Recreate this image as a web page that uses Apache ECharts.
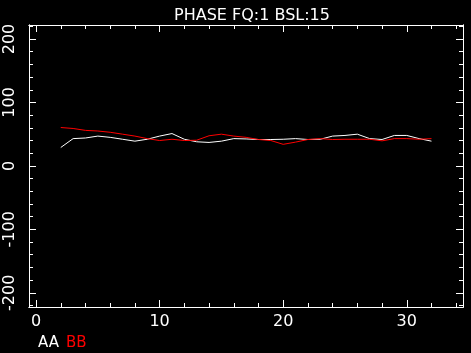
<!DOCTYPE html>
<html><head><meta charset="utf-8">
<script src="https://cdn.jsdelivr.net/npm/echarts@6/dist/echarts.min.js"></script>
<style>html,body{margin:0;padding:0;background:#000}#c{width:471px;height:353px}</style>
</head><body><div id="c"></div>
<script>
const titleText = 'PHASE FQ:1 BSL:15';
const xValues = [2,3,4,5,6,7,8,9,10,11,12,13,14,15,16,17,18,19,20,21,22,23,24,25,26,27,28,29,30,31,32];
const seriesAA = [29,43,44,47,45,42,39,42,47,51,42,38,37,39,43,42.5,41.6,41.6,42,43,41.6,42,47,48,50,43,41.6,48,48,43,39];
const seriesBB = [60.5,59,56,55,53,50,47,43,40,42,40,40.5,47.5,50,47,45,41.6,40,34,37.5,41.6,43,41.6,42,42,42,39.5,43,43,42,43];
const xMajorTicks = [0,10,20,30];
const xMinorTicks = [0,2,4,6,8,10,12,14,16,18,20,22,24,26,28,30,32,34];
const yMajorTicks = [-200,-100,0,100,200];
const yMinorTicks = [-220,-200,-180,-160,-140,-120,-100,-80,-60,-40,-20,0,20,40,60,80,100,120,140,160,180,200,220];

const XMIN = -0.57, XMAX = 34.55, YMIN = -222.4, YMAX = 222.1;
const FONT = 'DejaVu Sans';
function ax(pos, vals, len, labels, isX) {
  const o = {
    type: 'value', position: pos, min: isX ? XMIN : YMIN, max: isX ? XMAX : YMAX,
    axisLine: {show: true, onZero: false, lineStyle: {color: '#fff', width: 1}}, splitLine: {show: false},
    axisTick: {show: true, inside: true, length: len, customValues: vals, lineStyle: {color: '#fff', width: 1}},
    axisLabel: {show: false}
  };
  if (labels) {
    o.axisLabel = {show: true, customValues: vals, color: '#fff', fontFamily: FONT, fontSize: 16,
      margin: isX ? 7 : 11, rotate: isX ? 0 : 90};
  }
  return o;
}
const chart = echarts.init(document.getElementById('c'));
chart.setOption({
  backgroundColor: '#000',
  animation: false,
  title: {text: titleText, left: 247, top: 3, textAlign: 'center',
    textStyle: {color: '#fff', fontFamily: FONT, fontSize: 16, fontWeight: 'normal'}},
  grid: {left: 29, right: 8, top: 25, bottom: 46},
  legend: {left: 33, top: 336, icon: 'none', itemWidth: 0, itemHeight: 0, itemGap: 2, padding: 0,
    textStyle: {fontFamily: FONT, fontSize: 15, padding: 0},
    data: [{name: 'AA', textStyle: {color: '#fff'}}, {name: 'BB', textStyle: {color: '#f00'}}]},
  xAxis: [ax('bottom', xMajorTicks, 7, true, true), ax('bottom', xMinorTicks, 4, false, true),
          ax('top', xMajorTicks, 7, false, true), ax('top', xMinorTicks, 4, false, true)],
  yAxis: [ax('left', yMajorTicks, 7, true, false), ax('left', yMinorTicks, 4, false, false),
          ax('right', yMajorTicks, 7, false, false), ax('right', yMinorTicks, 4, false, false)],
  series: [
    {name: 'AA', type: 'line', xAxisIndex: 0, yAxisIndex: 0, showSymbol: false, color: '#fff',
     lineStyle: {color: '#fff', width: 1}, data: xValues.map((x, i) => [x, seriesAA[i]])},
    {name: 'BB', type: 'line', xAxisIndex: 0, yAxisIndex: 0, showSymbol: false, color: '#f00',
     lineStyle: {color: '#f00', width: 1}, data: xValues.map((x, i) => [x, seriesBB[i]])}
  ]
});
</script></body></html>
